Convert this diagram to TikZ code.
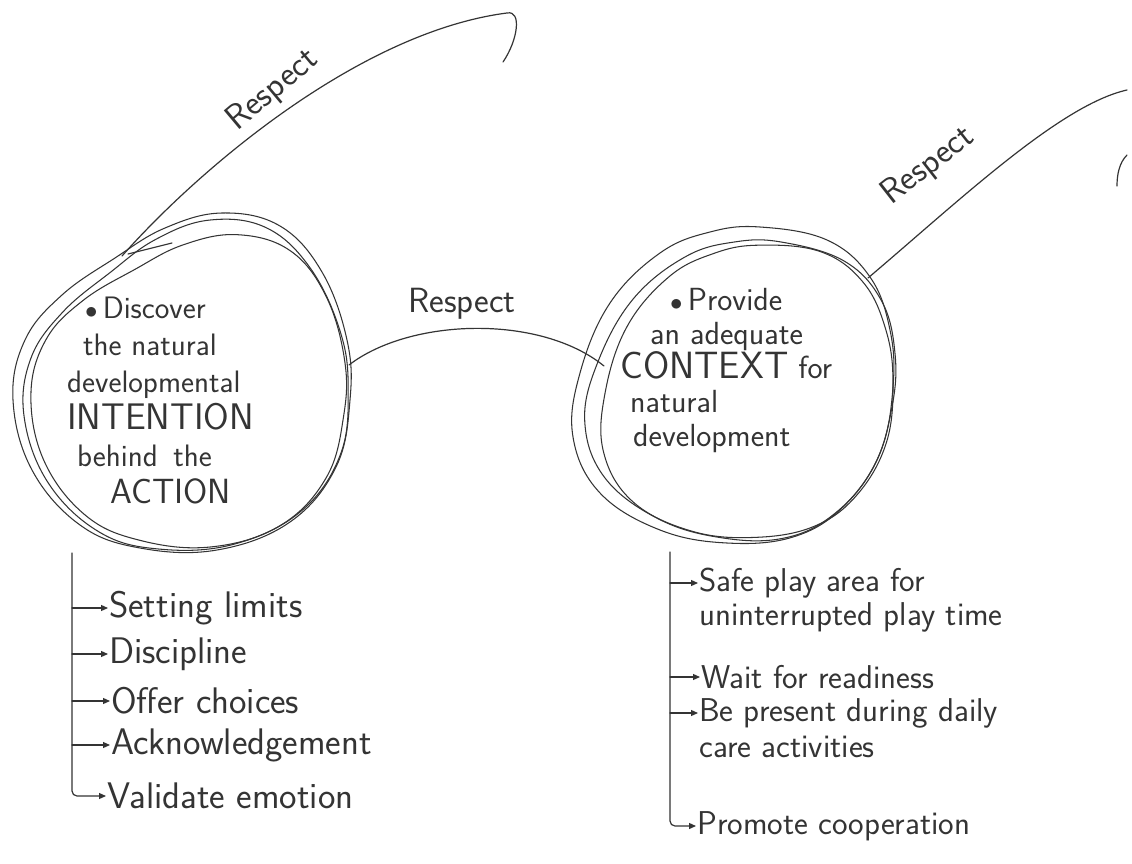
\documentclass[tikz,border=0pt]{standalone}
\usepackage{fontspec}
\usetikzlibrary{arrows.meta}
\definecolor{ink}{HTML}{343434}
\newcommand\lblob{plot[smooth cycle,tension=0.65] coordinates {(222,213) (280,226) (322,272) (347,340) (350,400) (336,467) (290,522) (217,550) (140,548) (80,525) (32,470) (13,400) (25,340) (62,295) (115,258) (165,228)}}
\newcommand\rblob{plot[smooth cycle,tension=0.65] coordinates {(760,227) (827,240) (870,277) (890,330) (893,387) (880,453) (843,507) (793,537) (727,543) (660,530) (600,493) (573,437) (580,373) (610,303) (660,253) (710,232)}}
\begin{document}
\begin{tikzpicture}[x=1pt,y=-1pt,
  inkline/.style={draw=ink, line width=1.2pt, line cap=round, line join=round},
  ring/.style={inkline, line width=1.05pt},
  arr/.style={inkline, -{Triangle[length=7pt,width=6pt]}},
  hand/.style={text=ink, font=\sffamily, inner sep=1pt},
  ctext/.style={hand, align=left, inner sep=0pt, anchor=north west},
  lab/.style={hand, font=\sffamily\fontsize{35}{38}\selectfont},
  litem/.style={hand, anchor=west, font=\sffamily\fontsize{37}{40}\selectfont},
  ritem/.style={hand, anchor=west, font=\sffamily\fontsize{33}{36}\selectfont}]
\useasboundingbox[fill=white] (0,0) rectangle (1132,864);

% rings of the left circle
\foreach \s/\r/\dx/\dy in {1/0/0/0, 0.965/5/3/4, 0.93/-4/7/7}{
  \draw[ring, shift={(182+\dx,380+\dy)}, rotate=\r, scale=\s, shift={(-182,-380)}] \lblob;}
% rings of the right circle
\foreach \s/\r/\dx/\dy in {1/0/0/0, 0.95/-6/8/4, 0.92/5/13/7}{
  \draw[ring, shift={(735+\dx,385+\dy)}, rotate=\r, scale=\s, shift={(-735,-385)}] \rblob;}

% circle texts
\node[ctext, font=\sffamily\fontsize{31}{37}\selectfont] (L) at (67,297) {%
\hspace*{18pt}$\bullet$\,Discover\\
\hspace*{16pt}the natural\\
developmental\\
{\fontsize{37}{37}\selectfont INTENTION}\\
\hspace*{10pt}behind\enspace the\\
\hspace*{43pt}{\fontsize{35}{37}\selectfont ACTION}};
\node[ctext, font=\sffamily\fontsize{32}{34}\selectfont] (R) at (620,288) {%
\hspace*{50pt}$\bullet$\,Provide\\
\hspace*{30pt}an adequate\\
{\fontsize{38}{34}\selectfont CONTEXT} for\\
\hspace*{10pt}natural\\
\hspace*{13pt}development};

% connector points
\coordinate (Lt) at (122,256);
\coordinate (Ltop) at (507,13);
\coordinate (Lhook) at (503,62);
\coordinate (Lm) at (349,365);
\coordinate (Rm) at (604,366);
\coordinate (Rt) at (868,278);
\coordinate (Rend) at (1127,90);
\coordinate (Xa) at (1127,155);
\coordinate (Xb) at (1117,186);
\coordinate (Ka) at (128,254);
\coordinate (Kb) at (172,243);

\draw[inkline] (Lt) .. controls (200,168) and (360,32) .. (Ltop) .. controls (522,10) and (518,40) .. (Lhook);
\draw[inkline] (Ka) -- (Kb);
\draw[inkline] (Lm) .. controls (410,318) and (540,314) .. (Rm);
\draw[inkline] (Rt) .. controls (960,200) and (1060,105) .. (Rend);
\draw[inkline] (Xa) .. controls (1119,163) and (1117,175) .. (Xb);

\node[lab, rotate=40] (r1) at (273,90) {Respect};
\node[lab] (r2) at (462,304) {Respect};
\node[lab, rotate=38] (r3) at (928,166) {Respect};

% left list
\coordinate (LV) at (72,553);
\node[litem] (a1) at (108,608) {Setting limits};
\node[litem] (a2) at (108,654) {Discipline};
\node[litem] (a3) at (110,701) {Offer choices};
\node[litem] (a4) at (110,745) {Acknowledgement};
\node[litem] (a5) at (106,796) {Validate emotion};
\draw[arr, rounded corners=5pt] (LV) |- (a5.west);
\foreach \n in {a1,a2,a3,a4}{\draw[arr] (\n.west -| LV) -- (\n.west);}

% right list
\coordinate (RV) at (670,552);
\node[ritem] (s1a) at (698,583) {Safe play area for};
\node[ritem] (s1b) at (698,617) {uninterrupted play time};
\node[ritem] (s2) at (700,677) {Wait for readiness};
\node[ritem] (s3a) at (698,713) {Be present during daily};
\node[ritem] (s3b) at (698,747) {care activities};
\node[ritem] (s4) at (696,826) {Promote cooperation};
\draw[arr, rounded corners=5pt] (RV) |- (s4.west);
\foreach \n in {s1a,s2,s3a}{\draw[arr] (\n.west -| RV) -- (\n.west);}
\end{tikzpicture}
\end{document}
